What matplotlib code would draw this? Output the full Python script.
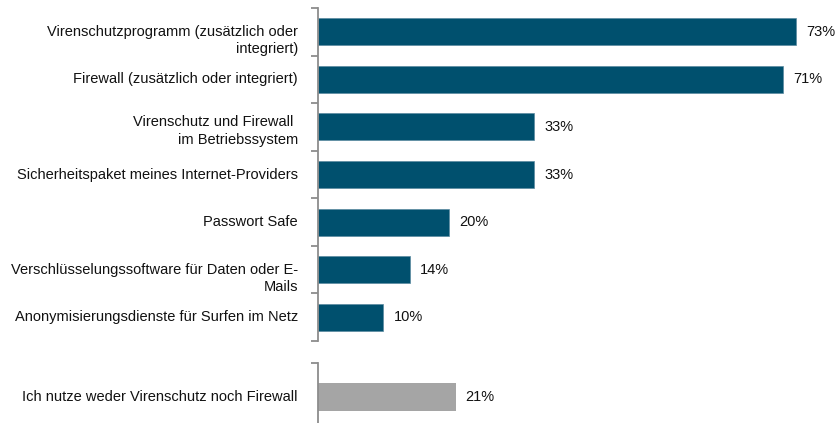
import matplotlib
matplotlib.use("Agg")
import matplotlib.pyplot as plt
from matplotlib.transforms import ScaledTranslation

plt.rcParams['font.family'] = ['Liberation Sans', 'DejaVu Sans']

categories = [
    "Virenschutzprogramm (zusätzlich oder\nintegriert)",
    "Firewall (zusätzlich oder integriert)",
    "Virenschutz und Firewall \nim Betriebssystem",
    "Sicherheitspaket meines Internet-Providers",
    "Passwort Safe",
    "Verschlüsselungssoftware für Daten oder E-\nMails",
    "Anonymisierungsdienste für Surfen im Netz",
]
values = [73, 71, 33, 33, 20, 14, 10]
extra_category = "Ich nutze weder Virenschutz noch Firewall"
extra_value = 21

teal = '#00506e'
grey = '#a5a5a5'
spine_col = '#8c8c8c'
txt_col = '#111111'
fs = 10.5
W, H = 837, 423
x_left = 318
px_per_pct = 6.55
xmax = (W - x_left) / px_per_pct

fig = plt.figure(figsize=(W / 100, H / 100), dpi=100)

def style(ax):
    ax.set_xlim(0, xmax)
    ax.set_xticks([])
    for s in ['top', 'right', 'bottom']:
        ax.spines[s].set_visible(False)
    ax.spines['left'].set_color(spine_col)
    ax.spines['left'].set_linewidth(1.3)
    ax.tick_params(axis='y', which='major', length=0, labelleft=False)
    ax.tick_params(axis='y', which='minor', length=5, color=spine_col, width=1.3)

def label(ax, y, s, dy_px=0):
    # category label right-aligned 20px left of the axis line
    tr = ax.get_yaxis_transform() + ScaledTranslation(-20 / 100, -dy_px / 100, fig.dpi_scale_trans)
    ax.text(0, y, s, transform=tr, ha='right', va='center', multialignment='right',
            fontsize=fs, color=txt_col, linespacing=1.3)

# main block
top_y, bot_y = 8, 341
ax1 = fig.add_axes([x_left / W, 1 - bot_y / H, 1 - x_left / W, (bot_y - top_y) / H])
pos = list(range(len(categories)))
ax1.barh(pos, values, height=0.57, color=teal, edgecolor='#5a8aa0', linewidth=0.5)
ax1.set_ylim(len(categories) - 0.5, -0.5)
ax1.set_yticks(pos)
ax1.set_yticks([p - 0.5 for p in range(len(categories) + 1)], minor=True)
style(ax1)
shifts = [9, 0, 4, 0, 0, 9, 0]
for p, c, d in zip(pos, categories, shifts):
    label(ax1, p, c, d)
for p, v in zip(pos, values):
    ax1.text(v + 10 / px_per_pct, p, f"{v}%", va='center', ha='left', fontsize=fs, color=txt_col)

# separated block
unit = (bot_y - top_y) / len(categories)
top2 = 363
ax2 = fig.add_axes([x_left / W, 0, 1 - x_left / W, (H - top2) / H])
ax2.barh([0], [extra_value], height=0.57, color=grey)
ax2.set_ylim((H - 397) / unit, -(397 - top2) / unit)
ax2.set_yticks([0])
ax2.set_yticks([-(397 - top2) / unit], minor=True)
style(ax2)
label(ax2, 0, extra_category)
ax2.text(extra_value + 10 / px_per_pct, 0, f"{extra_value}%", va='center', ha='left', fontsize=fs, color=txt_col)

fig.savefig("out.png", dpi=100)
